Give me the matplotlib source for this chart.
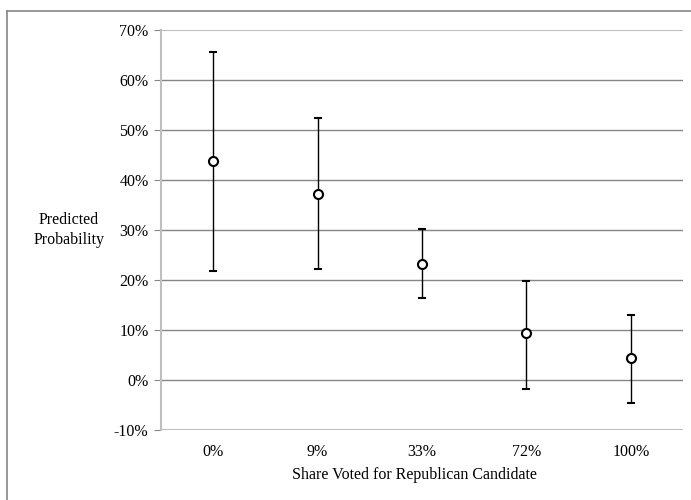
import matplotlib
matplotlib.use("Agg")
import matplotlib.pyplot as plt
from matplotlib.lines import Line2D
from matplotlib.ticker import FuncFormatter

categories = ["0%", "9%", "33%", "72%", "100%"]
predicted = [43.8, 37.2, 23.2, 9.4, 4.4]
upper = [65.6, 52.4, 30.2, 19.8, 13.0]
lower = [21.8, 22.2, 16.4, -1.8, -4.6]

plt.rcParams['font.family'] = ['Liberation Serif', 'DejaVu Serif']

fig = plt.figure(figsize=(6.91, 5.0), dpi=100)
ax = fig.add_axes([161/691, 70/500, (683-161)/691, 400/500])

x = list(range(len(categories)))
yerr = [[p - l for p, l in zip(predicted, lower)], [u - p for p, u in zip(predicted, upper)]]
ax.errorbar(x, predicted, yerr=yerr, fmt='o', mfc='white', mec='black', mew=1.5, ms=6.5,
            ecolor='black', elinewidth=1.0, capsize=3.2, capthick=1.0, zorder=3)

ax.set_xlim(-0.5, len(categories) - 0.5)
ax.set_ylim(-10, 70)
ax.set_yticks(range(-10, 71, 10))
ax.yaxis.set_major_formatter(FuncFormatter(lambda v, p: f"{int(v)}%"))
ax.set_xticks(x)
ax.set_xticklabels(categories)

for v in range(0, 61, 10):
    ax.axhline(v, color='#868686', lw=1.0, zorder=1)
for v in (-10, 70):
    ax.axhline(v, color='#bfbfbf', lw=1.5, zorder=1)

for s in ['top', 'right', 'bottom']:
    ax.spines[s].set_visible(False)
ax.spines['left'].set_color('#bfbfbf')
ax.spines['left'].set_linewidth(1.5)

ax.tick_params(axis='y', length=5, color='#868686', labelsize=11.5, pad=4)
ax.tick_params(axis='x', length=0, labelsize=11.5, pad=10)

fig.text(414/691, 1 - 475/500, "Share Voted for Republican Candidate", ha='center', va='center',
         fontsize=11.5)
fig.text(69/691, 1 - 230/500, "Predicted\nProbability", ha='center', va='center',
         fontsize=11.5, linespacing=1.35)

# figure frame (left and top)
fig.add_artist(Line2D([7/691, 7/691], [0, 1 - 11/500], transform=fig.transFigure, color='#868686', lw=1.2))
fig.add_artist(Line2D([7/691, 1], [1 - 11/500, 1 - 11/500], transform=fig.transFigure, color='#868686', lw=1.2))

fig.savefig("out.png", dpi=100)
